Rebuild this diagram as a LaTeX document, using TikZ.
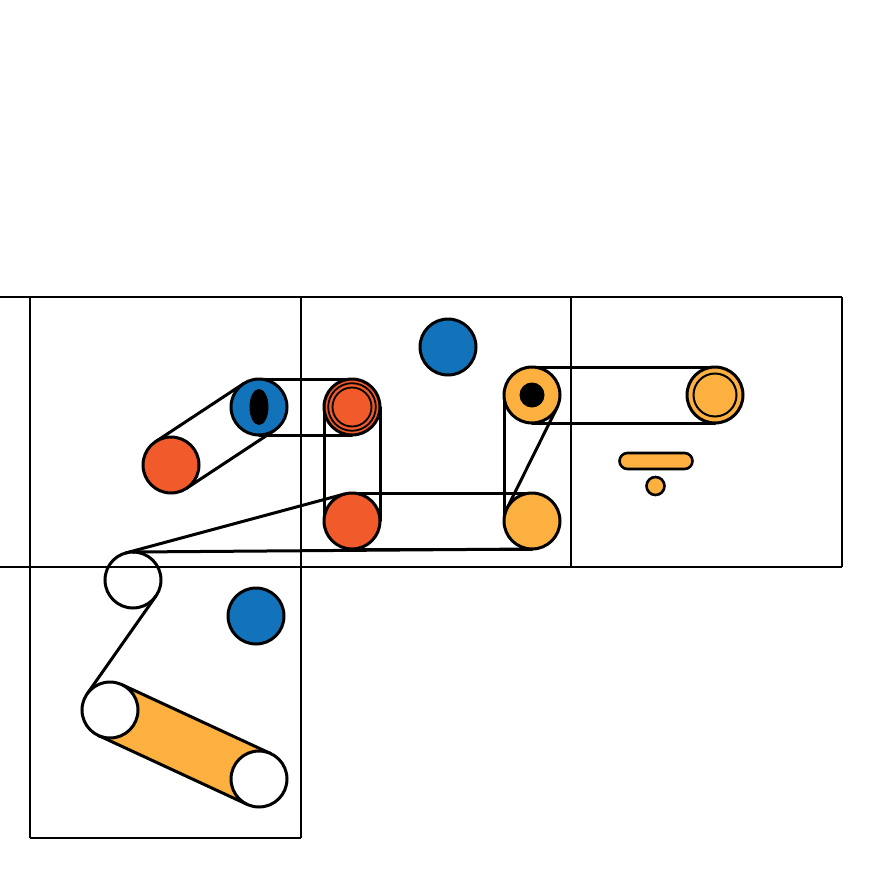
\documentclass[tikz,border=0pt]{standalone}
\usetikzlibrary{calc,shapes.geometric,backgrounds}
\definecolor{cblue}{HTML}{1273BB}
\definecolor{cred}{HTML}{F15A2B}
\definecolor{corange}{HTML}{FBB040}
\begin{document}
\begin{tikzpicture}[x=1pt,y=-1pt,
  pulley/.style={circle,draw=black,line width=3pt,minimum size=56pt,inner sep=0pt,outer sep=0pt},
  gridline/.style={line width=2pt},
  belt/.style={line width=3pt,line cap=round},
  ring/.style={line width=1.8pt}]
\useasboundingbox (0,0) rectangle (894,894);
% pulleys
\node[pulley,fill=cred]    (A) at (171,465) {};
\node[pulley,fill=cblue]   (B) at (259,407) {};
\node[ellipse,fill=black,minimum width=19pt,minimum height=36pt,inner sep=0pt] (Bh) at (B.center) {};
\node[pulley,fill=cred]    (C) at (352,407) {};
\node[pulley,fill=cblue]   (D) at (448,347) {};
\node[pulley,fill=corange] (E) at (532,395) {};
\node[circle,fill=black,minimum size=25pt,inner sep=0pt] (Eh) at (E.center) {};
\node[pulley,fill=corange] (F) at (715,395) {};
\node[pulley,fill=cred]    (G) at (352,521) {};
\node[pulley,fill=corange] (H) at (532,521) {};
\node[pulley]              (I) at (133,580) {};
\node[pulley,fill=cblue]   (J) at (256,616) {};
\node[pulley,fill=white]   (K) at (110,710) {};
\node[pulley,fill=white]   (L) at (259,779) {};
\node[rectangle,rounded corners=8pt,draw=black,fill=corange,line width=2.6pt,minimum width=73pt,minimum height=16pt,inner sep=0pt] (bar) at (656,461) {};
\node[circle,draw=black,fill=corange,line width=2.6pt,minimum size=18pt,inner sep=0pt] (dot) at (655.5,486) {};
% rings
\draw[ring] (C.center) circle[radius=23.8pt];
\draw[ring] (C.center) circle[radius=19.5pt];
\draw[line width=2pt] (F.center) circle[radius=21.5pt];
\begin{scope}[on background layer]
  % grid
  \draw[gridline] (0,297) -- (842,297) (0,567) -- (842,567) (30,838) -- (301,838);
  \draw[gridline] (30,297) -- (30,838) (301,297) -- (301,838) (571,297) -- (571,567) (842,297) -- (842,567);
  % K-L filled belt
  \fill[corange] ($(K.center)!28pt!90:(L.center)$) -- ($(L.center)!28pt!-90:(K.center)$)
     -- ($(L.center)!28pt!90:(K.center)$) -- ($(K.center)!28pt!-90:(L.center)$) -- cycle;
  % open belts
  \foreach \p/\q in {A/B,B/C,C/G,G/H,E/F,K/L}{
    \draw[belt] ($(\p.center)!28pt!90:(\q.center)$) -- ($(\q.center)!28pt!-90:(\p.center)$);
    \draw[belt] ($(\p.center)!28pt!-90:(\q.center)$) -- ($(\q.center)!28pt!90:(\p.center)$);
  }
  % E-H : one outer, one crossed
  \draw[belt] ($(E.center)!28pt!-90:(H.center)$) -- ($(H.center)!28pt!90:(E.center)$);
  \draw[belt] ($(E.center)!28pt!63.6:(H.center)$) -- ($(H.center)!28pt!63.6:(E.center)$);
  % I connections
  \draw[belt] ($(I.center)!28pt!90:(G.center)$) -- ($(G.center)!28pt!-90:(I.center)$);
  \draw[belt] ($(I.center)!28pt!82:(H.center)$) -- ($(H.center)!28pt!82:(I.center)$);
  \draw[belt] ($(I.center)!28pt!64.9:(K.center)$) -- ($(K.center)!28pt!64.9:(I.center)$);
\end{scope}
\end{tikzpicture}
\end{document}
